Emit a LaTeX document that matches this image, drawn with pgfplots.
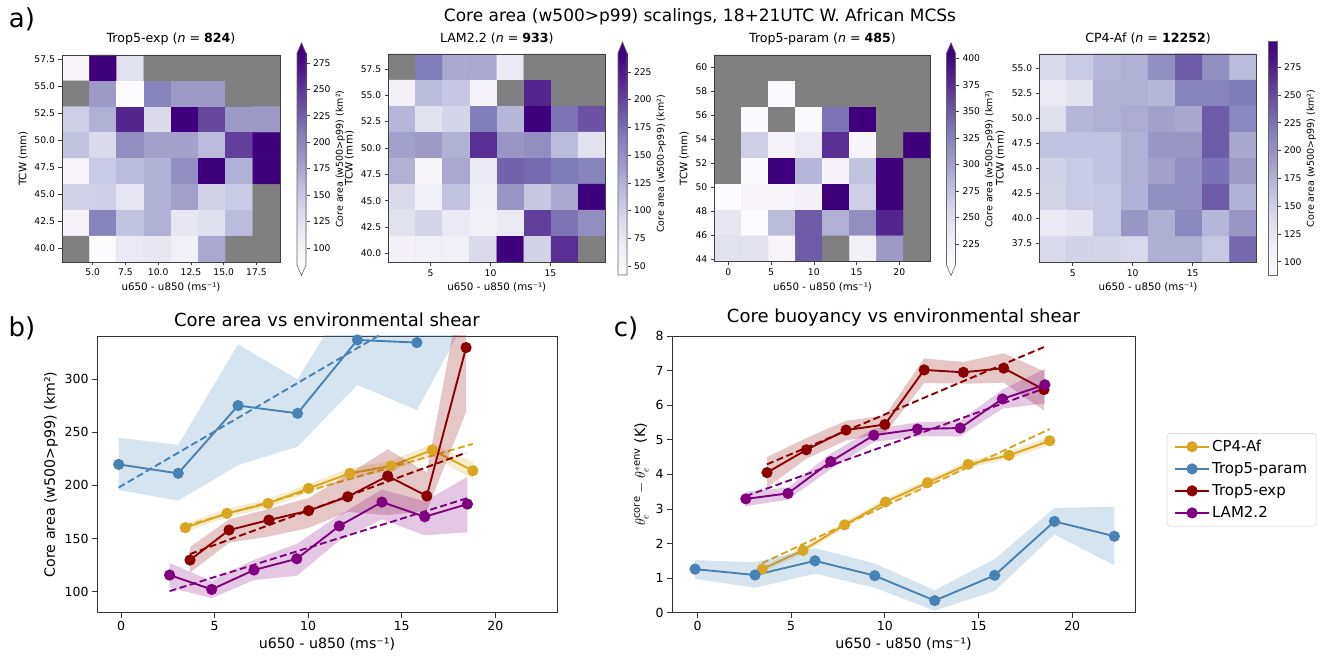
\documentclass[border=0pt]{standalone}
\usepackage{fontspec}
\setmainfont{DejaVu Sans}
\usepackage{pgfplots}
\pgfplotsset{compat=1.18}
\newcommand\fs[1]{\fontsize{#1}{#1}\selectfont}

\definecolor{cgold}{RGB}{218,165,32}
\definecolor{cblue}{RGB}{70,130,180}
\definecolor{cred}{RGB}{139,0,0}
\definecolor{cpurp}{RGB}{128,0,128}
\definecolor{cbtop}{RGB}{63,0,125}
\definecolor{cbbot}{RGB}{252,251,253}
\definecolor{nanbin}{RGB}{128,128,128}

\pgfplotsset{
  colormap={purples}{rgb255=(252,251,253) rgb255=(239,237,245) rgb255=(218,218,235)
    rgb255=(188,189,220) rgb255=(158,154,200) rgb255=(128,125,186) rgb255=(106,81,163)
    rgb255=(84,39,143) rgb255=(63,0,125)},
  % same map with a grey step below it: empty bins sit at point meta min
  colormap={pgray}{rgb255(0cm)=(128,128,128) rgb255(1cm)=(128,128,128)
    rgb255(1.01cm)=(252,251,253) rgb255(2.01cm)=(239,237,245) rgb255(3.01cm)=(218,218,235)
    rgb255(4.01cm)=(188,189,220) rgb255(5.01cm)=(158,154,200) rgb255(6.01cm)=(128,125,186)
    rgb255(7.01cm)=(106,81,163) rgb255(8.01cm)=(84,39,143) rgb255(9.01cm)=(63,0,125)},
  hm/.style={scale only axis, enlargelimits=false, axis on top, colormap name=pgray,
    axis background/.style={fill=nanbin},
    tick align=outside, xtick pos=bottom, ytick pos=left, major tick length=3.5pt,
    tick style={black!75, line width=0.6pt}, axis line style={black!75, line width=0.7pt},
    tick label style={font=\fs{9.2}}, label style={font=\fs{10.3}}, title style={font=\fs{12.6}},
    /pgf/number format/assume math mode=true,
    xlabel={u650 - u850 (ms⁻¹)}, ylabel={TCW (mm)}},
  cell/.style={matrix plot*, shader=faceted, faceted color=mapped color, line width=0.4pt,
    mesh/cols=8, point meta=explicit},
  cb/.style={scale only axis, width=9pt, xmin=0, xmax=1, clip=false, colormap name=purples,
    xtick=\empty, ytick pos=right, yticklabel pos=right, tick align=outside,
    major tick length=3.5pt, tick style={black!75, line width=0.6pt}, axis line style={draw=none},
    tick label style={font=\fs{9.2}}, /pgf/number format/assume math mode=true,
    ylabel={Core area (w500>p99) (km²)},
    every axis y label/.style={at={(axis description cs:4.8,0.5)}, rotate=90, anchor=center, font=\fs{9.5}}},
  lp/.style={scale only axis, height=276.7pt, tick align=outside, xtick pos=bottom, ytick pos=left,
    major tick length=5pt, tick style={black!80, line width=0.8pt}, axis line style={black!80, line width=0.9pt},
    tick label style={font=\fs{12.5}}, label style={font=\fs{14.2}}, title style={font=\fs{18}},
    /pgf/number format/assume math mode=true, xlabel={u650 - u850 (ms⁻¹)}, xtick={0,5,...,20}},
  ser/.style={color=#1, line width=1.9pt, mark=*, mark size=4.6pt, mark options={solid, fill=#1}},
  fit/.style={color=#1, line width=1.9pt, dash pattern=on 7pt off 3.5pt, forget plot},
  band/.style={fill=#1, fill opacity=0.22, draw=none, forget plot},
}

\begin{document}
\begin{tikzpicture}
\path[use as bounding box] (0,0) rectangle (1331pt,-660pt);

\node at (22pt,-19pt) {\fs{26}a)};
\node at (22pt,-328pt) {\fs{26}b)};
\node at (626pt,-328pt) {\fs{26}c)};
\node at (700pt,-17pt) {\fs{17}Core area (w500>p99) scalings, 18+21UTC W. African MCSs};

% ---------- Trop5-exp heatmap
\begin{axis}[hm, at={(62pt,-55pt)}, anchor=north west, width=218pt, height=207pt,
  xmin=2.66, xmax=19.30, ymin=38.73, ymax=57.9,
  xtick={5,7.5,...,17.5}, ytick={40,42.5,...,57.5},
  xticklabel style={/pgf/number format/.cd, fixed, fixed zerofill, precision=1},
  yticklabel style={/pgf/number format/.cd, fixed, fixed zerofill, precision=1},
  point meta min=58.75, point meta max=284,
  title={Trop5-exp (\textit{n} = \textbf{824})}]
\addplot[cell] table[meta=c, row sep=\\] {
x y c\\
3.70 56.70 94\\ 5.78 56.70 284\\ 7.86 56.70 124\\ 9.94 56.70 58.75\\ 12.02 56.70 58.75\\ 14.10 56.70 58.75\\ 16.18 56.70 58.75\\ 18.26 56.70 58.75\\
3.70 54.31 58.75\\ 5.78 54.31 184\\ 7.86 54.31 84\\ 9.94 54.31 204\\ 12.02 54.31 184\\ 14.10 54.31 184\\ 16.18 54.31 58.75\\ 18.26 54.31 58.75\\
3.70 51.91 144\\ 5.78 51.91 168\\ 7.86 51.91 260\\ 9.94 51.91 134\\ 12.02 51.91 284\\ 14.10 51.91 240\\ 16.18 51.91 184\\ 18.26 51.91 184\\
3.70 49.52 154\\ 5.78 49.52 134\\ 7.86 49.52 194\\ 9.94 49.52 180\\ 12.02 49.52 180\\ 14.10 49.52 160\\ 16.18 49.52 244\\ 18.26 49.52 284\\
3.70 47.12 94\\ 5.78 47.12 148\\ 7.86 47.12 160\\ 9.94 47.12 168\\ 12.02 47.12 194\\ 14.10 47.12 284\\ 16.18 47.12 168\\ 18.26 47.12 284\\
3.70 44.72 140\\ 5.78 44.72 144\\ 7.86 44.72 120\\ 9.94 44.72 168\\ 12.02 44.72 180\\ 14.10 44.72 140\\ 16.18 44.72 148\\ 18.26 44.72 58.75\\
3.70 42.33 98\\ 5.78 42.33 204\\ 7.86 42.33 154\\ 9.94 42.33 168\\ 12.02 42.33 118\\ 14.10 42.33 128\\ 16.18 42.33 160\\ 18.26 42.33 58.75\\
3.70 39.93 58.75\\ 5.78 39.93 84\\ 7.86 39.93 114\\ 9.94 39.93 118\\ 12.02 39.93 104\\ 14.10 39.93 174\\ 16.18 39.93 58.75\\ 18.26 39.93 58.75\\
};
\end{axis}
\begin{axis}[cb, at={(297pt,-53.3pt)}, anchor=north west, height=211.7pt, ymin=84, ymax=284, ytick={100,125,...,275}]
\addplot[patch, shader=interp, point meta=y] coordinates {(0,84) (1,84) (1,284) (0,84) (1,284) (0,284)};
\addplot[fill=cbtop, draw=none] coordinates {(0,284) (0.5,294) (1,284)};
\addplot[fill=cbbot, draw=none] coordinates {(0,84) (0.5,74) (1,84)};
\addplot[draw=black!60, line width=0.6pt] coordinates {(0,84) (0.5,74) (1,84) (1,284) (0.5,294) (0,284) (0,84)};
\end{axis}

% ---------- LAM2.2 heatmap
\begin{axis}[hm, at={(388.3pt,-54pt)}, anchor=north west, width=217pt, height=208.3pt,
  xmin=1.47, xmax=19.58, ymin=39.15, ymax=58.92,
  xtick={5,10,15}, ytick={40,42.5,...,57.5},
  yticklabel style={/pgf/number format/.cd, fixed, fixed zerofill, precision=1},
  point meta min=16.75, point meta max=242,
  title={LAM2.2 (\textit{n} = \textbf{933})}]
\addplot[cell] table[meta=c, row sep=\\] {
x y c\\
2.60 57.68 16.75\\ 4.87 57.68 166\\ 7.13 57.68 132\\ 9.40 57.68 132\\ 11.66 57.68 72\\ 13.92 57.68 16.75\\ 16.19 57.68 16.75\\ 18.45 57.68 16.75\\
2.60 55.21 58\\ 4.87 55.21 118\\ 7.13 55.21 108\\ 9.40 55.21 56\\ 11.66 55.21 16.75\\ 13.92 55.21 218\\ 16.19 55.21 16.75\\ 18.45 55.21 16.75\\
2.60 52.74 122\\ 4.87 52.74 82\\ 7.13 52.74 96\\ 9.40 52.74 166\\ 11.66 52.74 122\\ 13.92 52.74 242\\ 16.19 52.74 172\\ 18.45 52.74 192\\
2.60 50.27 138\\ 4.87 50.27 142\\ 7.13 50.27 126\\ 9.40 50.27 212\\ 11.66 50.27 146\\ 13.92 50.27 152\\ 16.19 50.27 118\\ 18.45 50.27 82\\
2.60 47.80 126\\ 4.87 47.80 52\\ 7.13 47.80 132\\ 9.40 47.80 72\\ 11.66 47.80 182\\ 13.92 47.80 178\\ 16.19 47.80 168\\ 18.45 47.80 162\\
2.60 45.33 92\\ 4.87 45.33 62\\ 7.13 45.33 112\\ 9.40 45.33 66\\ 11.66 45.33 146\\ 13.92 45.33 108\\ 16.19 45.33 132\\ 18.45 45.33 242\\
2.60 42.86 82\\ 4.87 42.86 96\\ 7.13 42.86 72\\ 9.40 42.86 62\\ 11.66 42.86 72\\ 13.92 42.86 202\\ 16.19 42.86 172\\ 18.45 42.86 152\\
2.60 40.39 58\\ 4.87 40.39 62\\ 7.13 40.39 62\\ 9.40 40.39 92\\ 11.66 40.39 242\\ 13.92 40.39 98\\ 16.19 40.39 212\\ 18.45 40.39 16.75\\
};
\end{axis}
\begin{axis}[cb, at={(618pt,-53pt)}, anchor=north west, height=222pt, ymin=42, ymax=242, ytick={50,75,...,225}]
\addplot[patch, shader=interp, point meta=y] coordinates {(0,42) (1,42) (1,242) (0,42) (1,242) (0,242)};
\addplot[fill=cbtop, draw=none] coordinates {(0,242) (0.5,252) (1,242)};
\addplot[draw=black!60, line width=0.6pt] coordinates {(0,42) (1,42) (1,242) (0.5,252) (0,242) (0,42)};
\end{axis}

% ---------- Trop5-param heatmap
\begin{axis}[hm, at={(714.3pt,-55pt)}, anchor=north west, width=216.4pt, height=206.7pt,
  xmin=-1.64, xmax=23.67, ymin=43.8, ymax=61.03,
  xtick={0,5,...,20}, ytick={44,46,...,60},
  point meta min=179.75, point meta max=405,
  title={Trop5-param (\textit{n} = \textbf{485})}]
\addplot[cell] table[meta=c, row sep=\\] {
x y c\\
-0.06 59.95 179.75\\ 3.10 59.95 179.75\\ 6.27 59.95 179.75\\ 9.43 59.95 179.75\\ 12.60 59.95 179.75\\ 15.76 59.95 179.75\\ 18.93 59.95 179.75\\ 22.09 59.95 179.75\\
-0.06 57.80 179.75\\ 3.10 57.80 179.75\\ 6.27 57.80 209\\ 9.43 57.80 179.75\\ 12.60 57.80 179.75\\ 15.76 57.80 179.75\\ 18.93 57.80 179.75\\ 22.09 57.80 179.75\\
-0.06 55.64 179.75\\ 3.10 55.64 209\\ 6.27 55.64 179.75\\ 9.43 55.64 209\\ 12.60 55.64 335\\ 15.76 55.64 405\\ 18.93 55.64 179.75\\ 22.09 55.64 179.75\\
-0.06 53.49 179.75\\ 3.10 53.49 265\\ 6.27 53.49 219\\ 9.43 53.49 235\\ 12.60 53.49 375\\ 15.76 53.49 215\\ 18.93 53.49 179.75\\ 22.09 53.49 405\\
-0.06 51.34 179.75\\ 3.10 51.34 209\\ 6.27 51.34 405\\ 9.43 51.34 285\\ 12.60 51.34 219\\ 15.76 51.34 275\\ 18.93 51.34 405\\ 22.09 51.34 179.75\\
-0.06 49.18 207\\ 3.10 49.18 215\\ 6.27 49.18 215\\ 9.43 49.18 221\\ 12.60 49.18 405\\ 15.76 49.18 265\\ 18.93 49.18 405\\ 22.09 49.18 179.75\\
-0.06 47.03 239\\ 3.10 47.03 205\\ 6.27 47.03 281\\ 9.43 47.03 349\\ 12.60 47.03 289\\ 15.76 47.03 315\\ 18.93 47.03 381\\ 22.09 47.03 179.75\\
-0.06 44.88 245\\ 3.10 44.88 245\\ 6.27 44.88 215\\ 9.43 44.88 349\\ 12.60 44.88 179.75\\ 15.76 44.88 225\\ 18.93 44.88 305\\ 22.09 44.88 179.75\\
};
\end{axis}
\begin{axis}[cb, at={(946.5pt,-53.3pt)}, anchor=north west, height=211.7pt, ymin=205, ymax=405, ytick={225,250,...,400}]
\addplot[patch, shader=interp, point meta=y] coordinates {(0,205) (1,205) (1,405) (0,205) (1,405) (0,405)};
\addplot[fill=cbtop, draw=none] coordinates {(0,405) (0.5,415) (1,405)};
\addplot[fill=cbbot, draw=none] coordinates {(0,205) (0.5,195) (1,205)};
\addplot[draw=black!60, line width=0.6pt] coordinates {(0,205) (0.5,195) (1,205) (1,405) (0.5,415) (0,405) (0,205)};
\end{axis}

% ---------- CP4-Af heatmap
\begin{axis}[hm, at={(1039.3pt,-54pt)}, anchor=north west, width=217.4pt, height=208.3pt,
  xmin=2.22, xmax=20.33, ymin=35.6, ymax=56.43,
  xtick={5,10,15}, ytick={37.5,40,...,55},
  yticklabel style={/pgf/number format/.cd, fixed, fixed zerofill, precision=1},
  point meta min=61.49, point meta max=298,
  title={CP4-Af (\textit{n} = \textbf{12252})}]
\addplot[cell] table[meta=c, row sep=\\] {
x y c\\
3.35 55.13 141\\ 5.62 55.13 155\\ 7.88 55.13 172\\ 10.15 55.13 176\\ 12.41 55.13 204\\ 14.67 55.13 239\\ 16.94 55.13 204\\ 19.20 55.13 168\\
3.35 52.52 120\\ 5.62 52.52 130\\ 7.88 52.52 176\\ 10.15 52.52 176\\ 12.41 52.52 172\\ 14.67 52.52 214\\ 16.94 52.52 214\\ 19.20 52.52 220\\
3.35 49.92 134\\ 5.62 49.92 172\\ 7.88 49.92 176\\ 10.15 49.92 180\\ 12.41 49.92 189\\ 14.67 49.92 183\\ 16.94 49.92 239\\ 19.20 49.92 210\\
3.35 47.31 162\\ 5.62 47.31 162\\ 7.88 47.31 162\\ 10.15 47.31 176\\ 12.41 47.31 197\\ 14.67 47.31 197\\ 16.94 47.31 239\\ 19.20 47.31 183\\
3.35 44.71 147\\ 5.62 44.71 155\\ 7.88 44.71 162\\ 10.15 44.71 176\\ 12.41 44.71 189\\ 14.67 44.71 204\\ 16.94 44.71 225\\ 19.20 44.71 193\\
3.35 42.10 145\\ 5.62 42.10 155\\ 7.88 42.10 157\\ 10.15 42.10 176\\ 12.41 42.10 204\\ 14.67 42.10 204\\ 16.94 42.10 239\\ 19.20 42.10 176\\
3.35 39.50 120\\ 5.62 39.50 126\\ 7.88 39.50 157\\ 10.15 39.50 197\\ 12.41 39.50 178\\ 14.67 39.50 210\\ 16.94 39.50 172\\ 19.20 39.50 197\\
3.35 36.90 141\\ 5.62 36.90 147\\ 7.88 36.90 145\\ 10.15 36.90 141\\ 12.41 36.90 178\\ 14.67 36.90 178\\ 16.94 36.90 157\\ 19.20 36.90 231\\
};
\end{axis}
\begin{axis}[cb, at={(1268pt,-41.7pt)}, anchor=north west, height=233.3pt, ymin=88, ymax=298, ytick={100,125,...,275}]
\addplot[patch, shader=interp, point meta=y] coordinates {(0,88) (1,88) (1,298) (0,88) (1,298) (0,298)};
\addplot[draw=black!60, line width=0.6pt] coordinates {(0,88) (1,88) (1,298) (0,298) (0,88)};
\end{axis}

% ---------- b) core area vs shear
\begin{axis}[lp, at={(97pt,-336pt)}, anchor=north west, width=460pt,
  xmin=-1.29, xmax=23.3, ymin=80.3, ymax=340.4, ytick={100,150,...,300},
  title={Core area vs environmental shear}, ylabel={Core area (w500>p99) (km²)}]
% CP4-Af
\addplot[band=cgold] coordinates {(3.43,156) (5.66,170) (7.85,179) (10.02,193) (12.23,207) (14.42,213.5) (16.63,227) (18.80,206)
  (18.80,222) (16.63,239) (14.42,223) (12.23,216) (10.02,201.5) (7.85,187) (5.66,178) (3.43,164)};
\addplot[fit=cgold] coordinates {(3.43,162) (18.80,238.9)};
\addplot[ser=cgold] coordinates {(3.43,160.2) (5.66,173.7) (7.85,183.0) (10.02,197.2) (12.23,211.3) (14.42,218.2) (16.63,233.2) (18.80,213.8)};
% Trop5-param
\addplot[band=cblue] coordinates {(-0.13,195.6) (3.05,185.6) (6.25,219) (9.43,236.4) (12.63,294.4) (15.81,270.8) (18.6,361)
  (15.81,420) (12.63,392) (9.43,299.7) (6.25,332.6) (3.05,237.9) (-0.13,244.8)};
\addplot[fit=cblue] coordinates {(-0.13,198) (15.81,361.7)};
\addplot[ser=cblue] coordinates {(-0.13,219.7) (3.05,211.3) (6.25,275.0) (9.43,267.7) (12.63,336.7) (15.81,334.2)};
% Trop5-exp
\addplot[band=cred] coordinates {(3.68,118) (5.77,146) (7.90,152) (10.02,160) (12.11,175) (14.25,172) (16.34,176) (18.44,269)
  (18.44,410) (16.34,212) (14.25,234) (12.11,210) (10.02,188) (7.90,178) (5.77,168) (3.68,142)};
\addplot[fit=cred] coordinates {(3.68,135.4) (18.44,230.7)};
\addplot[ser=cred] coordinates {(3.68,129.8) (5.77,158.0) (7.90,167.4) (10.02,176.2) (12.11,189.3) (14.25,208.8) (16.34,190.0) (18.44,329.5)};
% LAM2.2
\addplot[band=cpurp] coordinates {(2.59,104) (4.84,94) (7.10,111) (9.39,115) (11.66,148) (13.94,168) (16.23,153) (18.51,156)
  (18.51,208) (16.23,185) (13.94,196) (11.66,172) (9.39,145) (7.10,130) (4.84,110) (2.59,127)};
\addplot[fit=cpurp] coordinates {(2.59,100.6) (18.51,188)};
\addplot[ser=cpurp] coordinates {(2.59,115.7) (4.84,102.2) (7.10,120.4) (9.39,131.0) (11.66,161.8) (13.94,184.3) (16.23,170.5) (18.51,182.4)};
\end{axis}

% ---------- c) core buoyancy vs shear
\begin{axis}[lp, at={(672pt,-336pt)}, anchor=north west, width=463pt,
  xmin=-1.36, xmax=23.35, ymin=0, ymax=8, ytick={0,1,...,8},
  title={Core buoyancy vs environmental shear},
  ylabel={$\theta_e^{\mathrm{core}} - \theta_e^{*\mathrm{env}}$ (K)},
  legend style={at={(axis description cs:1.069,0.649)}, anchor=north west, font=\fs{15},
    draw=black!20, rounded corners=3pt, fill=white, row sep=5.5pt, inner xsep=7pt, inner ysep=5pt},
  legend cell align=left,
  legend image code/.code={\draw[mark repeat=2, mark phase=2] plot coordinates {(0pt,0pt) (17pt,0pt) (34pt,0pt)};}]
% CP4-Af
\addplot[band=cgold] coordinates {(3.45,1.17) (5.63,1.71) (7.85,2.45) (10.03,3.11) (12.28,3.66) (14.45,4.19) (16.62,4.44) (18.80,4.85)
  (18.80,5.09) (16.62,4.66) (14.45,4.39) (12.28,3.86) (10.03,3.29) (7.85,2.63) (5.63,1.89) (3.45,1.35)};
\addplot[fit=cgold] coordinates {(3.45,1.43) (18.80,5.31)};
\addplot[ser=cgold] coordinates {(3.45,1.26) (5.63,1.80) (7.85,2.54) (10.03,3.20) (12.28,3.76) (14.45,4.29) (16.62,4.55) (18.80,4.97)};
\addlegendentry{CP4-Af}
% Trop5-param
\addplot[band=cblue] coordinates {(-0.13,0.98) (3.07,0.72) (6.27,1.13) (9.46,0.72) (12.66,0.06) (15.86,0.63) (19.05,2.26) (22.25,1.37)
  (22.25,3.06) (19.05,3.03) (15.86,1.55) (12.66,0.65) (9.46,1.42) (6.27,1.87) (3.07,1.46) (-0.13,1.52)};
\addplot[ser=cblue] coordinates {(-0.13,1.26) (3.07,1.09) (6.27,1.50) (9.46,1.07) (12.66,0.35) (15.86,1.08) (19.05,2.64) (22.25,2.21)};
\addlegendentry{Trop5-param}
% Trop5-exp
\addplot[band=cred] coordinates {(3.71,3.62) (5.81,4.45) (7.93,4.98) (10.00,5.18) (12.10,6.64) (14.19,6.62) (16.34,6.65) (18.49,5.85)
  (18.49,6.98) (16.34,7.50) (14.19,7.25) (12.10,7.35) (10.00,5.70) (7.93,5.55) (5.81,5.05) (3.71,4.50)};
\addplot[fit=cred] coordinates {(3.71,4.29) (18.49,7.68)};
\addplot[ser=cred] coordinates {(3.71,4.05) (5.81,4.71) (7.93,5.28) (10.00,5.44) (12.10,7.02) (14.19,6.95) (16.34,7.07) (18.49,6.45)};
\addlegendentry{Trop5-exp}
% LAM2.2
\addplot[band=cpurp] coordinates {(2.58,3.08) (4.83,3.27) (7.11,4.15) (9.41,4.93) (11.74,5.10) (14.02,5.10) (16.27,5.90) (18.54,6.05)
  (18.54,7.05) (16.27,6.45) (14.02,5.55) (11.74,5.50) (9.41,5.32) (7.11,4.60) (4.83,3.62) (2.58,3.50)};
\addplot[fit=cpurp] coordinates {(2.58,3.37) (18.54,6.49)};
\addplot[ser=cpurp] coordinates {(2.58,3.29) (4.83,3.45) (7.11,4.37) (9.41,5.13) (11.74,5.31) (14.02,5.34) (16.27,6.18) (18.54,6.59)};
\addlegendentry{LAM2.2}
\end{axis}
\end{tikzpicture}
\end{document}
